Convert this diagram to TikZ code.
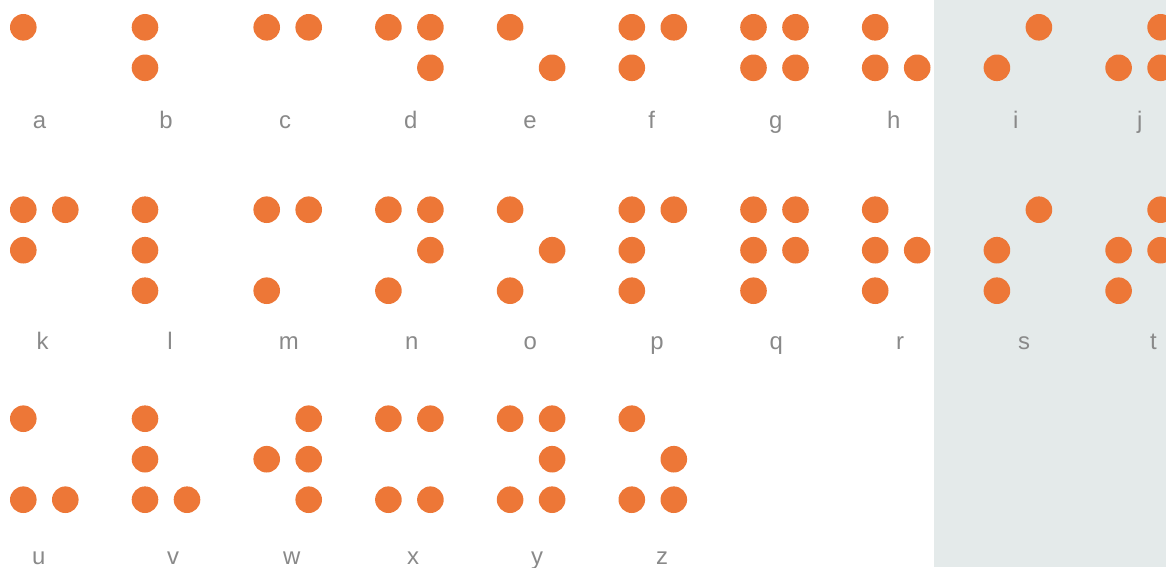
\documentclass[tikz,border=0pt]{standalone}
\usepackage{fontspec}
\setmainfont{Liberation Sans}
\definecolor{corange}{HTML}{ED7737}
\definecolor{cgrey}{HTML}{898989}
\definecolor{cpanel}{HTML}{E4EAEA}
\tikzset{
  every picture/.style={font=\fontsize{17}{20}\selectfont},
  dot/.style={circle, fill=corange, minimum size=0.665cm, inner sep=0pt},
  lbl/.style={text=cgrey, anchor=base, inner sep=0pt},
}

\begin{document}
\begin{tikzpicture}[x=0.025cm, y=-0.025cm]
  \useasboundingbox (0,0) rectangle (1166,567);
  \clip (0,0) rectangle (1166,567);
  % ---- shaded panel on the right
  \fill[cpanel] (934,0) rectangle (1166,567);
  % ---- row 1: a to j
  \foreach \ch/\k/\pts/\lx in {a/0/{1}/39.5, b/1/{1,2}/166, c/2/{1,4}/285, d/3/{1,4,5}/410.8,
      e/4/{1,5}/530, f/5/{1,2,4}/651.7, g/6/{1,2,4,5}/775.8, h/7/{1,2,5}/893.7,
      i/8/{2,4}/1015.7, j/9/{2,4,5}/1139.7} {
    \foreach \p in \pts {
      \pgfmathtruncatemacro{\cc}{\p>3}
      \pgfmathtruncatemacro{\rr}{mod(\p-1,3)}
      \node[dot] (\ch-\p) at ({23.3+121.7*\k+42*\cc}, {27.3+40.5*\rr}) {};
    }
    \node[lbl] (lbl-\ch) at (\lx,128) {\ch};
  }
  % ---- row 2: k to t
  \foreach \ch/\k/\pts/\lx in {k/0/{1,2,4}/42.7, l/1/{1,2,3}/170, m/2/{1,3,4}/288.8, n/3/{1,3,4,5}/411.7,
      o/4/{1,3,5}/530.3, p/5/{1,2,3,4}/657, q/6/{1,2,3,4,5}/776.3, r/7/{1,2,3,5}/900,
      s/8/{2,3,4}/1024, t/9/{2,3,4,5}/1153.5} {
    \foreach \p in \pts {
      \pgfmathtruncatemacro{\cc}{\p>3}
      \pgfmathtruncatemacro{\rr}{mod(\p-1,3)}
      \node[dot] (\ch-\p) at ({23.3+121.7*\k+42*\cc}, {209.7+40.5*\rr}) {};
    }
    \node[lbl] (lbl-\ch) at (\lx,349.3) {\ch};
  }
  % ---- row 3: u to z
  \foreach \ch/\k/\pts/\lx in {u/0/{1,3,6}/38.8, v/1/{1,2,3,6}/173, w/2/{2,4,5,6}/291.7,
      x/3/{1,3,4,6}/413, y/4/{1,3,4,5,6}/537, z/5/{1,3,5,6}/662} {
    \foreach \p in \pts {
      \pgfmathtruncatemacro{\cc}{\p>3}
      \pgfmathtruncatemacro{\rr}{mod(\p-1,3)}
      \node[dot] (\ch-\p) at ({23.3+121.7*\k+42*\cc}, {418.7+40.5*\rr}) {};
    }
    \node[lbl] (lbl-\ch) at (\lx,564.3) {\ch};
  }
\end{tikzpicture}
\end{document}
